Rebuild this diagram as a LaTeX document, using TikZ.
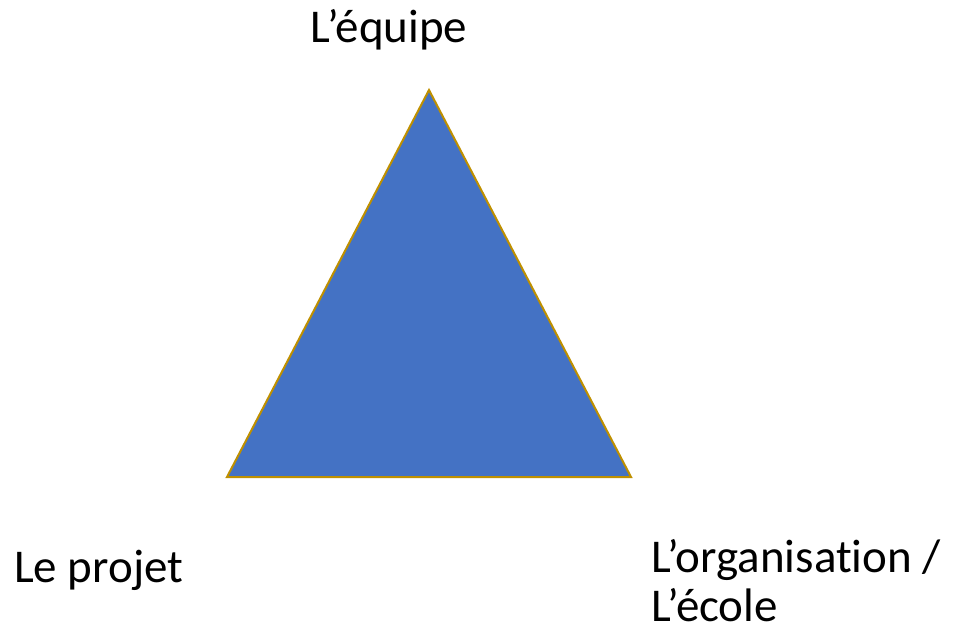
\documentclass[tikz,border=0pt]{standalone}
\usepackage{fontspec}
\setmainfont[Ligatures={NoCommon}]{Carlito}
\definecolor{triblue}{HTML}{4472C4}
\definecolor{trigold}{HTML}{BF9000}
\begin{document}
\begin{tikzpicture}[x=1pt,y=-1pt,
  lbl/.style={font=\fontsize{47}{49}\selectfont, inner sep=0pt, text=black}]
\useasboundingbox (0,0) rectangle (954,632);
\coordinate (top) at (429,90);
\coordinate (bl) at (227,477);
\coordinate (br) at (631,477);
\filldraw[fill=triblue, draw=trigold, line width=2pt, line join=miter] (top) -- (br) -- (bl) -- cycle;
\node[lbl, anchor=base] (eq) at (389,42) {L’équipe};
\node[lbl, anchor=base west] (pr) at (14,582) {Le projet};
\node[lbl, anchor=base west] (or1) at (651,572) {L’organisation /};
\node[lbl, anchor=base west] (or2) at (651,621) {L’école};
\end{tikzpicture}
\end{document}
